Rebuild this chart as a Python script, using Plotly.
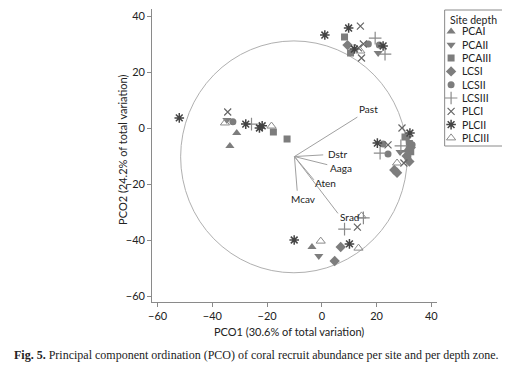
import plotly.graph_objects as go

# ---------------- data ----------------
series_names = ["PCAI", "PCAII", "PCAIII", "LCSI", "LCSII", "LCSIII", "PLCI", "PLCII", "PLCIII"]

PCAI_x = [-31.1, -33.6, -3.6, 31.0]
PCAI_y = [-1.8, -6.4, -42.5, -8.0]

PCAII_x = [-34.7, 20.6, -1.1, 28.6, 31.5]
PCAII_y = [2.9, 26.8, -45.7, -8.6, -3.5]

PCAIII_x = [-17.7, -12.7, 8.3, 10.5, 30.4, 32.0, 32.5]
PCAIII_y = [-1.4, -3.9, 32.5, 26.8, -3.2, -5.5, -8.5]

LCSI_x = [9.4, 6.9, 4.7, 26.5, 27.5, 31.0, 32.5, 32.0]
LCSI_y = [29.6, -42.5, -47.5, -15.0, -16.0, -10.0, -7.0, -12.0]

LCSII_x = [-32.5, 17.0, 21.0, 22.4, 24.2, 31.5, 33.0]
LCSII_y = [2.2, 30.0, 29.6, -5.7, -9.3, -11.0, -6.0]

LCSIII_x = [-25.7, 19.5, 23.1, 28.9, 21.3, 8.3, 15.2]
LCSIII_y = [1.4, 32.1, 26.4, -6.4, -9.0, -36.1, -32.1]

PLCI_x = [-34.4, 14.1, 13.4, 14.5, 15.2, 29.3, 24.2, 30.0, 13.0]
PLCI_y = [5.7, 36.4, 28.6, 25.0, 30.0, 0.0, -6.0, -12.5, -35.4]

PLCII_x = [-52.1, -27.8, -22.8, -21.8, 1.1, 9.8, 11.9, 22.4, 20.3, 32.2, -10.1, 10.1]
PLCII_y = [3.6, 1.4, 0.0, 0.8, 33.2, 35.7, 28.2, 29.3, -5.4, -1.8, -40.0, -41.4]

PLCIII_x = [-35.4, -18.4, 14.1, 27.5, -0.4, 13.4, 14.5]
PLCIII_y = [1.8, 0.7, 27.5, -12.5, -40.4, -42.9, -31.4]

series_x = [PCAI_x, PCAII_x, PCAIII_x, LCSI_x, LCSII_x, LCSIII_x, PLCI_x, PLCII_x, PLCIII_x]
series_y = [PCAI_y, PCAII_y, PCAIII_y, LCSI_y, LCSII_y, LCSIII_y, PLCI_y, PLCII_y, PLCIII_y]

# species vectors
vector_names = ["Past", "Dstr", "Aaga", "Aten", "Mcav", "Srad"]
vector_x = [13.0, 0.5, 2.0, -2.9, -9.0, 5.9]
vector_y = [3.9, -9.6, -13.1, -18.5, -22.4, -30.5]
vector_origin = (-10.0, -10.2)

circle_center = (-10.2, -10.3)
circle_radius = 41.4

tick_vals = [-60, -40, -20, 0, 20, 40]

x_title = "PCO1 (30.6% of total variation)"
y_title = "PCO2 (24.2% of total variation)"
legend_title = "Site depth"
caption = "<b>Fig. 5.</b> Principal component ordination (PCO) of coral recruit abundance per site and per depth zone."

# ---------------- styles ----------------
FONT = "Lato"
OFF = 8                      # page body margin of the exported html
W, H = 510 - OFF, 369 - OFF  # figure size so that it fills the window


def px(x):
    return (x - OFF) / W


def py(y):
    return 1 - (y - OFF) / H


GRAY = "#7d7d7d"
styles = {
    "PCAI": dict(symbol="triangle-up", size=8, color=GRAY, line=dict(width=0)),
    "PCAII": dict(symbol="triangle-down", size=8, color=GRAY, line=dict(width=0)),
    "PCAIII": dict(symbol="square", size=7, color=GRAY, line=dict(width=0)),
    "LCSI": dict(symbol="diamond", size=8, color=GRAY, line=dict(width=0)),
    "LCSII": dict(symbol="circle", size=7, color=GRAY, line=dict(width=0)),
    "LCSIII": dict(symbol="cross-thin", size=9, color="#8a8a8a", line=dict(width=1.2, color="#8a8a8a")),
    "PLCI": dict(symbol="x-thin", size=7, color="#666", line=dict(width=1.2, color="#666")),
    "PLCII": dict(symbol="asterisk", size=8, color="#444", line=dict(width=1.5, color="#444")),
    "PLCIII": dict(symbol="triangle-up-open", size=8, color="#8a8a8a", line=dict(width=1, color="#8a8a8a")),
}

fig = go.Figure()

# vectors
for name, vx, vy in zip(vector_names, vector_x, vector_y):
    fig.add_trace(go.Scatter(x=[vector_origin[0], vx], y=[vector_origin[1], vy], mode="lines",
                             line=dict(color="#a0a0a0", width=1), showlegend=False, hoverinfo="skip"))

# points
for name, xs, ys in zip(series_names, series_x, series_y):
    fig.add_trace(go.Scatter(x=xs, y=ys, mode="markers", name=name, marker=styles[name], showlegend=False))

# correlation circle
fig.add_shape(type="circle", xref="x", yref="y",
              x0=circle_center[0] - circle_radius, x1=circle_center[0] + circle_radius,
              y0=circle_center[1] - circle_radius, y1=circle_center[1] + circle_radius,
              line=dict(color="#b0b0b0", width=1), layer="below")

# vector labels
label_pos = {
    "Past": dict(xanchor="left", yanchor="bottom", xshift=0, yshift=0),
    "Dstr": dict(xanchor="left", yanchor="middle", xshift=3, yshift=1),
    "Aaga": dict(xanchor="left", yanchor="middle", xshift=1, yshift=-3),
    "Aten": dict(xanchor="left", yanchor="middle", xshift=-1, yshift=-3),
    "Mcav": dict(xanchor="center", yanchor="top", xshift=6, yshift=0),
    "Srad": dict(xanchor="left", yanchor="middle", xshift=0, yshift=-4),
}
for name, vx, vy in zip(vector_names, vector_x, vector_y):
    fig.add_annotation(x=vx, y=vy, xref="x", yref="y", text=name, showarrow=False,
                       font=dict(family=FONT, size=10, color="#222"), **label_pos[name])

# ---------------- legend (drawn on helper axes) ----------------
lx0, lx1, ly0, ly1 = 445, 506, 10, 146
fig.add_shape(type="rect", xref="paper", yref="paper",
              x0=px(lx0), x1=px(lx1), y0=py(ly1), y1=py(ly0),
              line=dict(color="#8a8a8a", width=1))
item_y = [21.5 + i * 13.3 for i in range(len(series_names))]
for name, iy in zip(series_names, item_y):
    fig.add_trace(go.Scatter(x=[6.5], y=[iy], mode="markers", marker=styles[name],
                             xaxis="x2", yaxis="y2", showlegend=False, hoverinfo="skip"))
    fig.add_annotation(x=15.5, y=iy, xref="x2", yref="y2", text=name, showarrow=False,
                       xanchor="left", yanchor="middle",
                       font=dict(family=FONT, size=10.5, color="#222"))
fig.add_annotation(x=3, y=10, xref="x2", yref="y2", text=legend_title, showarrow=False,
                   xanchor="left", yanchor="middle", font=dict(family=FONT, size=10.5, color="#222"))

# axis titles and caption
fig.add_annotation(x=px(288), y=py(331), xref="paper", yref="paper", text=x_title, showarrow=False,
                   xanchor="center", yanchor="middle", font=dict(family=FONT, size=11, color="#222"))
fig.add_annotation(x=px(119), y=py(150), xref="paper", yref="paper", text=y_title, showarrow=False,
                   textangle=-90, xanchor="center", yanchor="middle",
                   font=dict(family=FONT, size=11, color="#222"))
fig.add_annotation(x=px(255), y=py(355), xref="paper", yref="paper", text=caption, showarrow=False,
                   xanchor="center", yanchor="middle",
                   font=dict(family="Liberation Serif", size=12, color="#222"))

axis_common = dict(showgrid=False, zeroline=False, showline=True, linecolor="#8a8a8a", linewidth=1,
                   ticks="outside", ticklen=4, tickcolor="#8a8a8a", tickvals=tick_vals,
                   tickfont=dict(family=FONT, size=11, color="#222"), fixedrange=True)
fig.update_layout(
    width=W, height=H, margin=dict(l=0, r=0, t=0, b=0),
    paper_bgcolor="white", plot_bgcolor="white", showlegend=False,
    xaxis=dict(domain=[px(149.6), px(437)], range=[-62, 42], anchor="y", **axis_common),
    yaxis=dict(domain=[py(301.6), py(9)], range=[-62, 42.5], anchor="x", **axis_common),
    xaxis2=dict(domain=[px(lx0), px(lx1)], range=[0, lx1 - lx0], anchor="y2", visible=False, fixedrange=True),
    yaxis2=dict(domain=[py(ly1), py(ly0)], range=[ly1 - ly0, 0], anchor="x2", visible=False, fixedrange=True),
)

fig.write_html("out.html")
